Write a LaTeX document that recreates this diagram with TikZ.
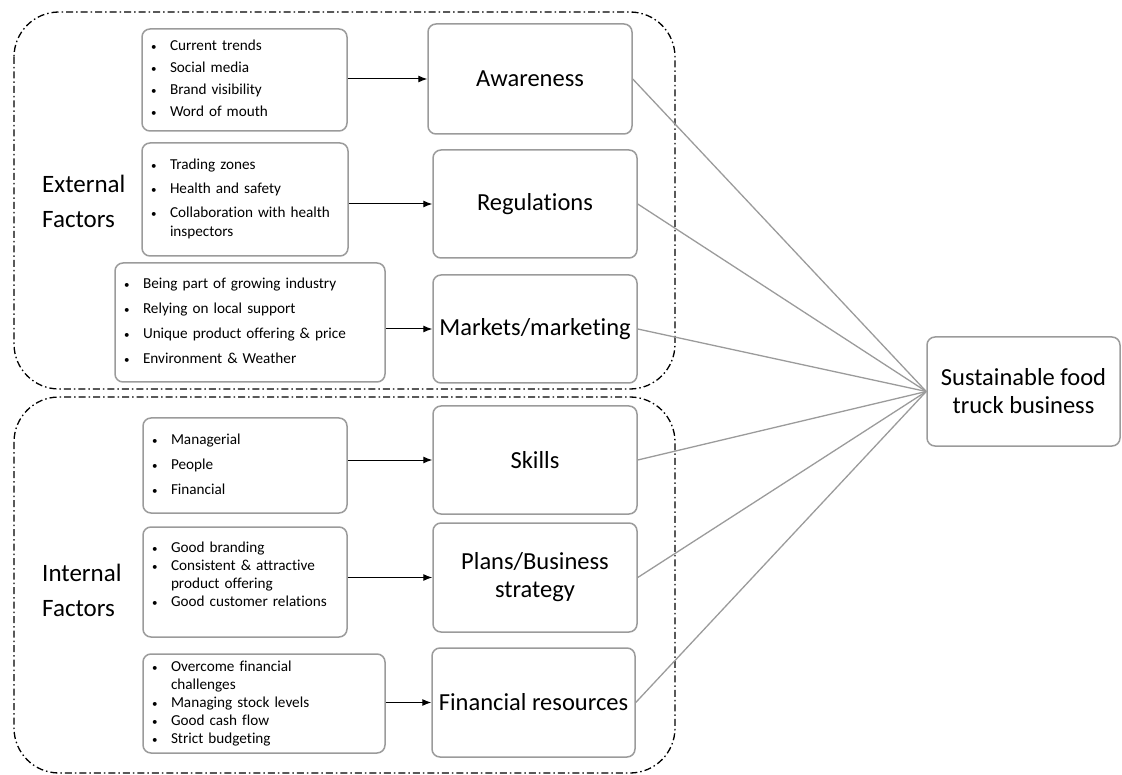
\documentclass[tikz,border=0pt]{standalone}
\usepackage{fontspec}
\setmainfont[Ligatures=NoCommon]{Carlito}
\usetikzlibrary{arrows.meta}
\definecolor{boxgray}{RGB}{155,155,155}
\newcommand{\bl}{\hspace*{3pt}{\fontsize{11}{11}\selectfont\textbullet}}
\tikzset{
  grp/.style={line width=1.3pt, dash pattern=on 7pt off 3pt on 1.5pt off 3pt, rounded corners=45pt},
  lst/.style={draw=boxgray, line width=1.5pt, rounded corners=8pt, inner xsep=6pt, inner ysep=2pt,
    align=left, font=\fontsize{15.2}{18}\selectfont},
  lbl/.style={draw=boxgray, line width=1.5pt, rounded corners=8pt, minimum width=204pt,
    minimum height=108pt, align=center, font=\fontsize{24.5}{28}\selectfont},
  fac/.style={anchor=west, inner sep=0pt, align=left, font=\fontsize{25}{35}\selectfont},
  arr/.style={-{Latex[length=9pt,width=7pt]}, line width=1pt},
  link/.style={draw=boxgray, line width=1.3pt}
}
\begin{document}
\begin{tikzpicture}[x=1pt,y=-1pt]
        \useasboundingbox (0,0) rectangle (1122,775);
        % Gruppen
        \draw[grp] (14,12) rectangle (675,389);
        \draw[grp] (14,397) rectangle (675,773);
        \node[fac] (ext) at (42,201) {External\\Factors};
        \node[fac] (int) at (42,590) {Internal\\Factors};
        % Listen
        \node[lst, text width=193pt, minimum height=102pt] (aware-list) at (244.5,80) {%
            \begin{tabular}{@{}p{22pt}@{}l@{}}
            \bl & Current trends\\[4pt]
            \bl & Social media\\[4pt]
            \bl & Brand visibility\\[4pt]
            \bl & Word of mouth
            \end{tabular}};
        \node[lst, text width=194pt, minimum height=113pt] (reg-list) at (245,199.5) {%
            \begin{tabular}{@{}p{22pt}@{}l@{}}
            \bl & Trading zones\\[6pt]
            \bl & Health and safety\\[6pt]
            \bl & Collaboration with health\\[1pt]
                & inspectors
            \end{tabular}};
        \node[lst, text width=258pt, minimum height=119pt] (market-list) at (250,322.5) {%
            \begin{tabular}{@{}p{22pt}@{}l@{}}
            \bl & Being part of growing industry\\[7pt]
            \bl & Relying on local support\\[7pt]
            \bl & Unique product offering \& price\\[7pt]
            \bl & Environment \& Weather
            \end{tabular}};
        \node[lst, text width=192pt, minimum height=95pt] (skill-list) at (245,465.5) {%
            \begin{tabular}{@{}p{22pt}@{}l@{}}
            \bl & Managerial\\[7pt]
            \bl & People\\[7pt]
            \bl & Financial
            \end{tabular}};
        \node[lst, text width=192pt, minimum height=110pt] (plan-list) at (245,582) {%
            \begin{tabular}{@{}p{22pt}@{}l@{}}
            \bl & Good branding\\
            \bl & Consistent \& attractive\\
                & product offering\\
            \bl & Good customer relations\\[12pt]
            \end{tabular}};
        \node[lst, text width=230pt, minimum height=99pt] (finance-list) at (264,703.5) {%
            \begin{tabular}{@{}p{22pt}@{}l@{}}
            \bl & Overcome financial\\
                & challenges\\
            \bl & Managing stock levels\\
            \bl & Good cash flow\\
            \bl & Strict budgeting
            \end{tabular}};
        % Faktoren
        \node[lbl, minimum height=110pt] (aware) at (530,79) {Awareness};
        \node[lbl] (reg) at (535,204) {Regulations};
        \node[lbl] (market) at (535,329) {Markets/marketing};
        \node[lbl] (skill) at (535,460) {Skills};
        \node[lbl, minimum height=109pt] (plan) at (535,577.5) {Plans/Business\\strategy};
        \node[lbl, minimum width=203pt, minimum height=109pt] (finance) at (533.5,702.5) {Financial resources};
        % Ziel
        \node[lbl, minimum width=193pt, minimum height=109pt] (food) at (1023.5,391.5) {Sustainable food\\truck business};
        % Pfeile
        \foreach \n in {aware,reg,market,skill,plan,finance}{
            \draw[arr] (\n-list.east |- \n.west) -- (\n.west);
            \draw[link] (\n.east) -- (food.west);
        }
    \end{tikzpicture}
\end{document}
